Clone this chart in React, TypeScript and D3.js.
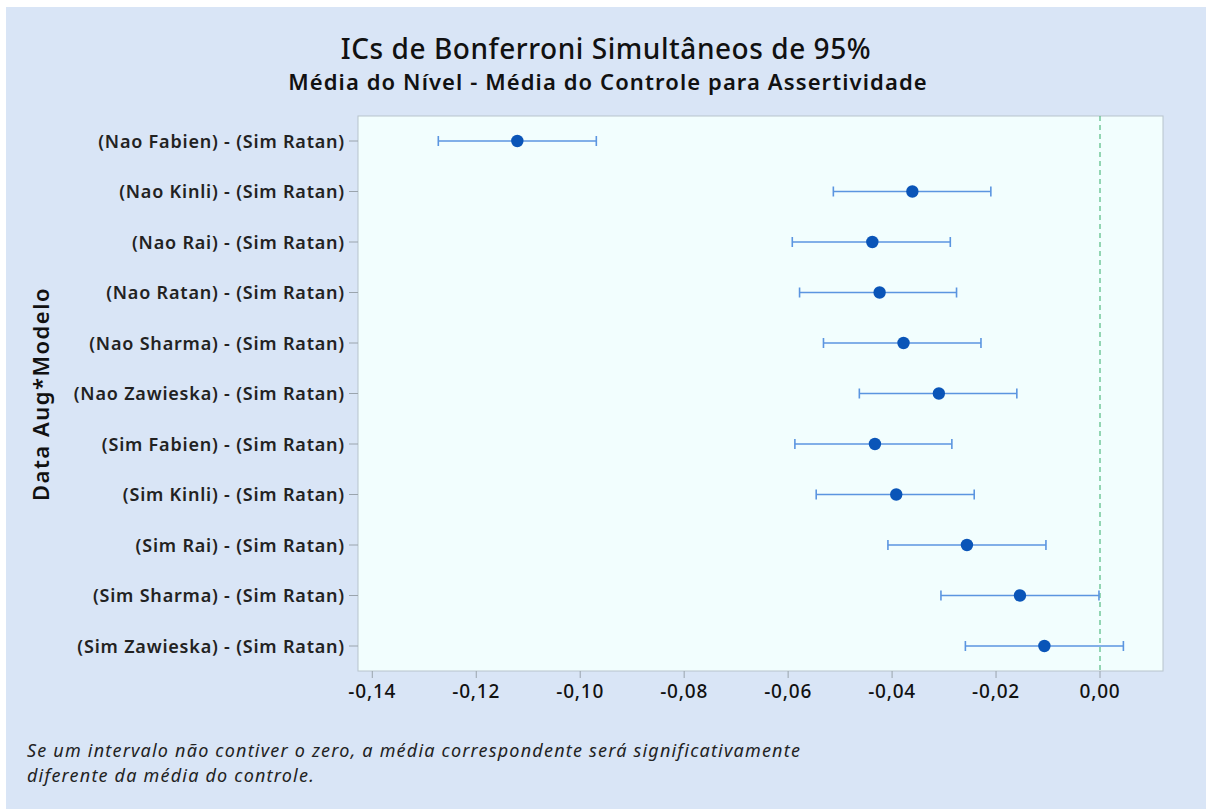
import React from "react";
import * as d3 from "d3";

const categories = [
  "(Nao Fabien) - (Sim Ratan)",
  "(Nao Kinli) - (Sim Ratan)",
  "(Nao Rai) - (Sim Ratan)",
  "(Nao Ratan) - (Sim Ratan)",
  "(Nao Sharma) - (Sim Ratan)",
  "(Nao Zawieska) - (Sim Ratan)",
  "(Sim Fabien) - (Sim Ratan)",
  "(Sim Kinli) - (Sim Ratan)",
  "(Sim Rai) - (Sim Ratan)",
  "(Sim Sharma) - (Sim Ratan)",
  "(Sim Zawieska) - (Sim Ratan)",
];
const estimates = [-0.1121, -0.0361, -0.0438, -0.0424, -0.0378, -0.031, -0.0433, -0.0392, -0.0256, -0.0154, -0.0107];
const lowers = [-0.1273, -0.0513, -0.0592, -0.0578, -0.0532, -0.0463, -0.0587, -0.0546, -0.0408, -0.0306, -0.0259];
const uppers = [-0.0969, -0.021, -0.0288, -0.0276, -0.0229, -0.016, -0.0285, -0.0242, -0.0104, -0.0002, 0.0045];
const xTicks = [-0.14, -0.12, -0.1, -0.08, -0.06, -0.04, -0.02, 0.0];

const W = 1207;
const H = 809;
const plot = { left: 358, right: 1163, top: 116, bottom: 671 };
const FONT = "'Noto Sans', 'Open Sans', sans-serif";

export default function App() {
  const x = d3.scaleLinear().domain([-0.14275, 0.01212]).range([plot.left, plot.right]);
  const y = d3
    .scalePoint<string>()
    .domain(categories)
    .range([141, 646]);
  const fmt = (v: number) => d3.format(".2f")(v).replace(".", ",").replace("−", "-");
  const cap = 5;

  return (
    <svg width={W} height={H} style={{ position: "absolute", left: 0, top: 0 }} fontFamily={FONT}>
      <rect x={0} y={0} width={W} height={H} fill="#ffffff" />
      <rect x={6} y={7} width={1200} height={802} fill="#d9e5f6" />
      <text x={606} y={59} textAnchor="middle" fontSize={28} fontWeight={500} letterSpacing={0.55} fill="#111">
        ICs de Bonferroni Simultâneos de 95%
      </text>
      <text x={608} y={90} textAnchor="middle" fontSize={22} fontWeight={600} letterSpacing={1.1} fill="#111">
        Média do Nível - Média do Controle para Assertividade
      </text>

      <rect
        x={plot.left}
        y={plot.top}
        width={plot.right - plot.left}
        height={plot.bottom - plot.top}
        fill="#f2fefe"
        stroke="#b8c4cc"
        strokeWidth={1}
      />

      {/* zero reference line */}
      <line
        x1={x(0)}
        x2={x(0)}
        y1={plot.top}
        y2={plot.bottom}
        stroke="#5fbf8a"
        strokeWidth={1.3}
        strokeDasharray="5,4"
      />

      {/* x axis ticks */}
      {xTicks.map((t) => (
        <g key={t}>
          <line x1={x(t)} x2={x(t)} y1={plot.bottom} y2={plot.bottom + 7} stroke="#9aa4ad" />
          <text x={x(t)} y={698} textAnchor="middle" fontSize={19} fontWeight={500} letterSpacing={0.8} fill="#111">
            {fmt(t)}
          </text>
        </g>
      ))}

      {/* y axis ticks and labels */}
      {categories.map((c) => (
        <g key={c}>
          <line x1={plot.left - 9} x2={plot.left} y1={y(c)!} y2={y(c)!} stroke="#9aa4ad" />
          <text x={345} y={y(c)! + 6.5} textAnchor="end" fontSize={18} fontWeight={600} letterSpacing={0.8} fill="#222">
            {c}
          </text>
        </g>
      ))}

      <text
        transform={`translate(49,394) rotate(-90)`}
        textAnchor="middle"
        fontSize={22}
        fontWeight={600}
        letterSpacing={1.5}
        fill="#111"
      >
        Data Aug*Modelo
      </text>

      {/* intervals */}
      {categories.map((c, i) => {
        const yy = y(c)!;
        return (
          <g key={"ci" + c}>
            <line x1={x(lowers[i])} x2={x(uppers[i])} y1={yy} y2={yy} stroke="#5b95e0" strokeWidth={1.6} />
            <line x1={x(lowers[i])} x2={x(lowers[i])} y1={yy - cap} y2={yy + cap} stroke="#5b95e0" strokeWidth={1.6} />
            <line x1={x(uppers[i])} x2={x(uppers[i])} y1={yy - cap} y2={yy + cap} stroke="#5b95e0" strokeWidth={1.6} />
            <circle cx={x(estimates[i])} cy={yy} r={6.2} fill="#0a55b8" />
          </g>
        );
      })}

      <text x={27} y={757} fontSize={18} fontStyle="italic" letterSpacing={1.2} fill="#222">
        Se um intervalo não contiver o zero, a média correspondente será significativamente
      </text>
      <text x={27} y={782} fontSize={18} fontStyle="italic" letterSpacing={1.2} fill="#222">
        diferente da média do controle.
      </text>
    </svg>
  );
}
